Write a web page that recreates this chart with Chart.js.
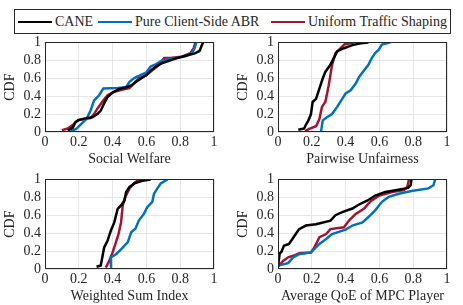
<!DOCTYPE html>
<html>
<head>
<meta charset="utf-8">
<script src="https://cdn.jsdelivr.net/npm/chart.js@4"></script>
<style>
  body { margin: 0; width: 463px; height: 305px; background: #fff; position: relative; overflow: hidden; font-family: "Liberation Serif", serif; color: #262626; }
  canvas { position: absolute; }
  #legend { position: absolute; left: 14px; top: 9px; width: 435px; height: 23px; border: 1px solid #262626; background: #fff; z-index: 2; font-size: 14px; }
  .item { position: absolute; top: 0; height: 23px; display: flex; align-items: center; white-space: nowrap; }
  .swatch { width: 34px; height: 0; border-top: 2px solid; margin-right: 3px; }
</style>
</head>
<body>
<div id="legend"></div>
<canvas id="welfare" width="230" height="138"></canvas>
<canvas id="unfair" width="230" height="138"></canvas>
<canvas id="weighted" width="230" height="138"></canvas>
<canvas id="qoe" width="230" height="138"></canvas>
<script>
// series names and colours
const seriesNames = ['CANE', 'Pure Client-Side ABR', 'Uniform Traffic Shaping'];
const seriesColors = ['#000000', '#0072BD', '#A2142F'];

// axis ticks
const tickValues = [0, 0.2, 0.4, 0.6, 0.8, 1];
const tickLabels = ['0', '0.2', '0.4', '0.6', '0.8', '1'];

// CDF curves, [value, cdf]
const welfareCane = [[0.135,0.015],[0.165,0.05],[0.18,0.11],[0.2,0.135],[0.245,0.155],[0.28,0.165],[0.31,0.2],[0.33,0.24],[0.35,0.32],[0.37,0.39],[0.4,0.44],[0.44,0.48],[0.48,0.5],[0.51,0.52],[0.54,0.56],[0.57,0.6],[0.6,0.635],[0.625,0.685],[0.655,0.73],[0.695,0.77],[0.75,0.805],[0.79,0.83],[0.85,0.86],[0.89,0.88],[0.915,0.905],[0.925,0.955],[0.935,1]];
const welfareClient = [[0.155,0.01],[0.185,0.035],[0.215,0.09],[0.245,0.145],[0.27,0.24],[0.29,0.35],[0.32,0.41],[0.345,0.485],[0.43,0.49],[0.48,0.5],[0.5,0.56],[0.53,0.605],[0.555,0.625],[0.6,0.665],[0.625,0.73],[0.655,0.755],[0.695,0.8],[0.75,0.815],[0.83,0.845],[0.87,0.88],[0.885,0.935],[0.895,1]];
const welfareUniform = [[0.1,0.02],[0.135,0.04],[0.165,0.08],[0.195,0.13],[0.235,0.145],[0.27,0.155],[0.29,0.2],[0.31,0.26],[0.34,0.34],[0.37,0.41],[0.41,0.45],[0.46,0.475],[0.5,0.49],[0.53,0.55],[0.555,0.6],[0.6,0.635],[0.635,0.69],[0.675,0.75],[0.705,0.825],[0.75,0.83],[0.81,0.84],[0.86,0.88],[0.88,0.935],[0.89,1]];

const unfairCane = [[0.12,0.025],[0.155,0.04],[0.165,0.08],[0.18,0.13],[0.195,0.2],[0.205,0.335],[0.225,0.37],[0.245,0.485],[0.265,0.6],[0.28,0.67],[0.31,0.75],[0.33,0.825],[0.35,0.9],[0.39,0.935],[0.44,0.97],[0.49,0.99],[0.535,1]];
const unfairClient = [[0.255,0.01],[0.265,0.13],[0.29,0.165],[0.32,0.2],[0.35,0.28],[0.38,0.37],[0.4,0.43],[0.43,0.465],[0.46,0.54],[0.48,0.615],[0.51,0.69],[0.535,0.75],[0.555,0.825],[0.575,0.88],[0.595,0.915],[0.615,0.975],[0.665,1]];
const unfairUniform = [[0.16,0.01],[0.185,0.035],[0.225,0.065],[0.245,0.145],[0.26,0.28],[0.28,0.335],[0.3,0.52],[0.31,0.635],[0.32,0.75],[0.34,0.88],[0.37,0.935],[0.395,0.98],[0.45,1]];

const weightedCane = [[0.305,0.025],[0.33,0.04],[0.35,0.24],[0.37,0.315],[0.39,0.43],[0.41,0.52],[0.43,0.67],[0.45,0.71],[0.47,0.765],[0.48,0.86],[0.5,0.915],[0.53,0.955],[0.575,0.985],[0.625,1]];
const weightedClient = [[0.385,0.025],[0.39,0.13],[0.42,0.165],[0.45,0.22],[0.49,0.3],[0.51,0.41],[0.535,0.45],[0.555,0.54],[0.585,0.615],[0.605,0.69],[0.635,0.75],[0.645,0.84],[0.665,0.9],[0.685,0.955],[0.725,1]];
const weightedUniform = [[0.36,0.015],[0.38,0.09],[0.4,0.185],[0.42,0.3],[0.435,0.39],[0.45,0.52],[0.46,0.71],[0.475,0.805],[0.5,0.9],[0.525,0.955],[0.55,0.99],[0.565,1]];

const qoeCane = [[0,0.025],[0.01,0.175],[0.02,0.19],[0.035,0.26],[0.065,0.28],[0.085,0.335],[0.105,0.39],[0.125,0.445],[0.165,0.485],[0.225,0.5],[0.31,0.54],[0.34,0.6],[0.38,0.635],[0.44,0.675],[0.48,0.72],[0.53,0.765],[0.575,0.82],[0.635,0.86],[0.695,0.88],[0.77,0.905],[0.785,0.935],[0.79,1]];
const qoeClient = [[0,0.04],[0.06,0.065],[0.09,0.13],[0.125,0.165],[0.195,0.185],[0.245,0.28],[0.285,0.335],[0.32,0.39],[0.4,0.44],[0.44,0.485],[0.5,0.52],[0.535,0.58],[0.575,0.655],[0.615,0.75],[0.655,0.805],[0.715,0.84],[0.79,0.87],[0.89,0.9],[0.92,0.935],[0.93,1]];
const qoeUniform = [[0,0.025],[0.03,0.09],[0.06,0.13],[0.1,0.155],[0.125,0.175],[0.195,0.185],[0.215,0.24],[0.245,0.355],[0.285,0.39],[0.31,0.445],[0.39,0.465],[0.42,0.54],[0.46,0.615],[0.51,0.675],[0.535,0.73],[0.555,0.765],[0.6,0.82],[0.675,0.86],[0.745,0.88],[0.765,0.915],[0.775,1]];

Chart.defaults.font.family = '"Liberation Serif", serif';
Chart.defaults.font.size = 14;
Chart.defaults.color = '#262626';

// legend
const legendLeft = [3, 83, 256];
const legend = document.getElementById('legend');
seriesNames.forEach((name, i) => {
    const item = document.createElement('div');
    item.className = 'item';
    item.style.left = legendLeft[i] + 'px';
    item.innerHTML = `<span class="swatch" style="border-color:${seriesColors[i]}"></span>${name}`;
    legend.appendChild(item);
});

// box round the plot area, like the matlab axes
const framePlugin = {
    id: 'frame',
    afterDraw(chart) {
        const { ctx, chartArea: a } = chart;
        ctx.save();
        ctx.strokeStyle = '#262626';
        ctx.lineWidth = 1;
        ctx.strokeRect(Math.round(a.left) + 0.5, Math.round(a.top) + 0.5,
            Math.round(a.right - a.left) - 1, Math.round(a.bottom - a.top) - 1);
        ctx.restore();
    }
};

const Y_W = 47, PAD_TOP = 10;

function axisOptions(titleText, isX) {
    return {
        type: 'linear',
        min: 0,
        max: 1,
        afterBuildTicks: axis => { axis.ticks = tickValues.map(v => ({ value: v })); },
        afterFit: scale => {
            if (isX) scale.height = 36; else scale.width = Y_W;
        },
        ticks: {
            autoSkip: false,
            maxRotation: 0,
            padding: isX ? 2 : 4,
            callback: (v, i) => tickLabels[i]
        },
        grid: { color: '#e6e6e6', drawTicks: false },
        border: { display: false },
        title: {
            display: true,
            text: titleText,
            padding: isX ? { top: 0, bottom: 0 } : { top: 3.6, bottom: 0 }
        }
    };
}

function makeChart(id, plotLeft, plotTop, xTitle, curves) {
    const canvas = document.getElementById(id);
    canvas.style.left = (plotLeft - Y_W) + 'px';
    canvas.style.top = (plotTop - PAD_TOP) + 'px';
    return new Chart(canvas, {
        type: 'line',
        data: {
            datasets: curves.map((pts, i) => ({
                label: seriesNames[i],
                data: pts.map(p => ({ x: p[0], y: p[1] })),
                borderColor: seriesColors[i],
                borderWidth: 2.5,
                pointRadius: 0,
                tension: 0,
                fill: false
            }))
        },
        options: {
            responsive: false,
            animation: false,
            devicePixelRatio: 1,
            layout: { padding: { top: PAD_TOP, right: 14, left: 0, bottom: 0 } },
            plugins: { legend: { display: false }, tooltip: { enabled: false } },
            scales: {
                x: axisOptions(xTitle, true),
                y: axisOptions('CDF', false)
            }
        },
        plugins: [framePlugin]
    });
}

makeChart('welfare', 45, 40, 'Social Welfare', [welfareCane, welfareClient, welfareUniform]);
makeChart('unfair', 278, 40, 'Pairwise Unfairness', [unfairCane, unfairClient, unfairUniform]);
makeChart('weighted', 45, 177, 'Weighted Sum Index', [weightedCane, weightedClient, weightedUniform]);
makeChart('qoe', 278, 177, 'Average QoE of MPC Player', [qoeCane, qoeClient, qoeUniform]);
</script>
</body>
</html>
